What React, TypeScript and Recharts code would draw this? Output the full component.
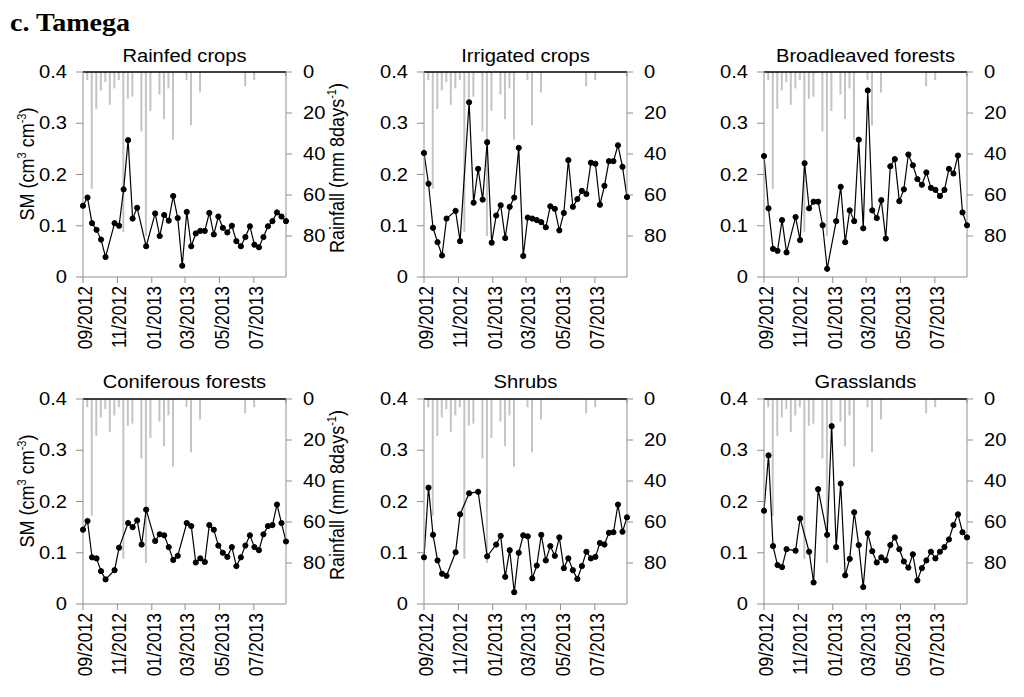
import React from 'react';
import { ComposedChart, Line, Bar, XAxis, YAxis, ReferenceLine } from 'recharts';

const FONT = '"Liberation Sans", Arial, sans-serif';
const AXIS_GREY = '#8f8f8f';
const TICK_FONT = 17.5;
const STRETCH = 1.15; // the figure's lettering is a little wide

// days since 1 Sep 2012, one 8-day composite per entry
const days = [0, 8, 16, 24, 32, 40, 48, 56, 64, 72, 80, 88, 96, 104, 112, 120, 128, 136, 144, 152, 160, 168, 176,
  184, 192, 200, 208, 216, 224, 232, 240, 248, 256, 264, 272, 280, 288, 296, 304, 312, 320, 328, 336, 344, 352, 360];

const monthTicks = [0, 61, 122, 181, 242, 303];
const monthLabels = ['09/2012', '11/2012', '01/2013', '03/2013', '05/2013', '07/2013'];
const smTicks = [0, 0.1, 0.2, 0.3, 0.4];
const rainTicks = [0, 20, 40, 60, 80];

// basin rainfall (mm / 8 days), same in every panel
const rainfall = [0, 4, 57, 18, 9, 5, 16, 8, 4, 78, 13, 12, 0, 29, 80, 19, 0, 11, 23, 8, 33, 0, 0,
  4, 26, 0, 10, 0, 0, 0, 0, 0, 0, 0, 0, 0, 7, 0, 4, 0, 0, 0, 0, 0, 0, 2];

const rainfedCrops = [0.139, 0.155, 0.105, 0.092, 0.073, 0.039, null, 0.105, 0.1, 0.171, 0.267, 0.114, 0.135, null,
  0.06, null, 0.124, 0.08, 0.121, 0.11, 0.158, 0.115, 0.022, 0.127, 0.06, 0.085, 0.09, 0.09, 0.125, 0.083, 0.118,
  0.096, 0.087, 0.1, 0.07, 0.06, 0.078, 0.099, 0.063, 0.058, 0.078, 0.099, 0.109, 0.126, 0.118, 0.109];
const irrigatedCrops = [0.242, 0.182, 0.096, 0.068, 0.042, 0.114, null, 0.129, 0.07, null, 0.341, 0.145, 0.211,
  0.151, 0.263, 0.067, 0.12, 0.14, 0.076, 0.137, 0.155, 0.252, 0.041, 0.116, 0.114, 0.111, 0.107, 0.097, 0.138,
  0.133, 0.091, 0.125, 0.228, 0.137, 0.152, 0.168, 0.162, 0.223, 0.221, 0.141, 0.178, 0.226, 0.226, 0.257, 0.215, 0.156];
const broadleavedForests = [0.236, 0.134, 0.055, 0.051, 0.111, 0.048, null, 0.117, 0.072, 0.222, 0.134, 0.147, 0.147,
  0.101, 0.016, null, 0.109, 0.176, 0.068, 0.13, 0.109, 0.268, 0.095, 0.364, 0.13, 0.115, 0.15, 0.075, 0.216, 0.23,
  0.148, 0.171, 0.239, 0.218, 0.191, 0.18, 0.204, 0.174, 0.17, 0.158, 0.17, 0.211, 0.202, 0.237, 0.126, 0.101];
const coniferousForests = [0.145, 0.162, 0.091, 0.089, 0.064, 0.048, null, 0.066, 0.11, null, 0.158, 0.15, 0.163,
  0.116, 0.184, null, 0.123, 0.136, 0.134, 0.111, 0.086, 0.094, null, 0.158, 0.152, 0.081, 0.089, 0.082, 0.154,
  0.145, 0.114, 0.1, 0.092, 0.111, 0.074, 0.091, 0.114, 0.134, 0.111, 0.105, 0.136, 0.152, 0.154, 0.194, 0.158, 0.122];
const shrubs = [0.091, 0.227, 0.135, 0.085, 0.059, 0.055, null, 0.101, 0.175, null, 0.216, null, 0.219, null, 0.093,
  null, 0.116, 0.133, 0.053, 0.105, 0.023, 0.1, 0.134, 0.132, 0.05, 0.075, 0.135, 0.085, 0.113, 0.094, 0.13, 0.07,
  0.089, 0.066, 0.049, 0.074, 0.102, 0.089, 0.092, 0.119, 0.116, 0.139, 0.14, 0.194, 0.141, 0.169];
const grasslands = [0.182, 0.29, 0.113, 0.076, 0.072, 0.107, null, 0.104, 0.167, null, 0.102, 0.042, 0.224, null,
  0.135, 0.347, 0.111, 0.235, 0.056, 0.088, 0.179, 0.115, 0.033, 0.138, 0.103, 0.081, 0.091, 0.085, 0.115, 0.13,
  0.107, 0.083, 0.071, 0.097, 0.046, 0.07, 0.085, 0.102, 0.089, 0.102, 0.111, 0.126, 0.154, 0.175, 0.14, 0.13];

const panels = [
  { title: 'Rainfed crops', sm: rainfedCrops, row: 0, col: 0 },
  { title: 'Irrigated crops', sm: irrigatedCrops, row: 0, col: 1 },
  { title: 'Broadleaved forests', sm: broadleavedForests, row: 0, col: 2 },
  { title: 'Coniferous forests', sm: coniferousForests, row: 1, col: 0 },
  { title: 'Shrubs', sm: shrubs, row: 1, col: 1 },
  { title: 'Grasslands', sm: grasslands, row: 1, col: 2 },
];

const COL_LEFT = [0, 341, 681];
const ROW_TOP = [0, 330];
const ROW_MARGIN_TOP = [72, 69];
const TITLE_CENTER = [56, 381.5];
const PLOT_LEFT = 83;
const PLOT_W = 203;
const PLOT_H = 205;
const XAXIS_H = 80;
const CHART_W = 360;

const MonthTick = (props: any) => {
  const { x, y, payload } = props;
  const label = monthLabels[monthTicks.indexOf(payload.value)];
  return (
    <text x={0} y={0} transform={`translate(${x} ${y}) rotate(-90) scale(1 ${STRETCH})`} textAnchor="end"
      dy="0.45em" fontSize={TICK_FONT} fontFamily={FONT} fill="#000">
      {label}
    </text>
  );
};

const ValueTick = (props: any) => {
  const { x, y, payload, anchor, fmt } = props;
  return (
    <text x={0} y={0} transform={`translate(${x} ${y}) scale(${STRETCH} 1)`} textAnchor={anchor} dy="0.355em"
      fontSize={TICK_FONT} fontFamily={FONT} fill="#000">
      {fmt(payload.value)}
    </text>
  );
};

const fmtSm = (v: number) => (v === 0 ? '0' : v.toFixed(1));
const fmtRain = (v: number) => String(v);

const Panel = ({ title, sm, row, col }: { title: string; sm: (number | null)[]; row: number; col: number }) => {
  const data = days.map((d, i) => ({ day: d, sm: sm[i], rain: rainfall[i] }));
  const top = ROW_TOP[row];
  const mTop = ROW_MARGIN_TOP[row];
  const left = COL_LEFT[col];
  const height = mTop + PLOT_H + XAXIS_H;
  return (
    <>
      <div style={{
        position: 'absolute', left: left + PLOT_LEFT, top: TITLE_CENTER[row] - 11, width: PLOT_W,
        textAlign: 'center', fontFamily: FONT, fontSize: 17.5, lineHeight: '22px', color: '#000',
        transform: `scaleX(${STRETCH})`, whiteSpace: 'nowrap',
      }}>{title}</div>
      <div style={{ position: 'absolute', left, top }}>
        <ComposedChart width={CHART_W} height={height} data={data}
          margin={{ top: mTop, right: CHART_W - PLOT_LEFT - PLOT_W - 45, bottom: 0, left: PLOT_LEFT - 50 }}>
          <XAxis dataKey="day" type="number" domain={[0, 360]} ticks={monthTicks} interval={0}
            height={XAXIS_H} tickSize={6} tickMargin={3} tick={(p: any) => <MonthTick {...p} />}
            axisLine={{ stroke: AXIS_GREY }} tickLine={{ stroke: AXIS_GREY }} />
          <YAxis yAxisId="sm" domain={[0, 0.4]} ticks={smTicks} width={50} tickSize={7} tickMargin={9}
            tick={(p: any) => <ValueTick {...p} anchor="end" fmt={fmtSm} />}
            axisLine={{ stroke: AXIS_GREY }} tickLine={{ stroke: AXIS_GREY }} />
          <YAxis yAxisId="rain" orientation="right" reversed domain={[0, 100]} ticks={rainTicks} width={45}
            tickSize={6} tickMargin={11} tick={(p: any) => <ValueTick {...p} anchor="start" fmt={fmtRain} />}
            axisLine={{ stroke: AXIS_GREY }} tickLine={{ stroke: AXIS_GREY }} />
          <Bar yAxisId="rain" dataKey="rain" fill="#c4c4c4" barSize={2} isAnimationActive={false} />
          <ReferenceLine yAxisId="sm" y={0.4} stroke="#000" strokeWidth={1.5} />
          <Line yAxisId="sm" dataKey="sm" stroke="#000" strokeWidth={1.2} connectNulls
            dot={{ r: 2.6, fill: '#000', stroke: '#000', strokeWidth: 1 }} isAnimationActive={false} />
        </ComposedChart>
      </div>
    </>
  );
};

const rotated = (cx: number, cy: number): React.CSSProperties => ({
  position: 'absolute', left: cx, top: cy,
  transform: `translate(-50%, -50%) rotate(-90deg) scaleY(${STRETCH})`,
  whiteSpace: 'nowrap', fontFamily: FONT, fontSize: 18, lineHeight: '18px', color: '#000',
});
const supStyle: React.CSSProperties = { fontSize: 11, verticalAlign: 'super', lineHeight: 0 };

export default function App() {
  return (
    <div style={{ position: 'absolute', left: 0, top: 0, width: 1024, height: 697, background: '#fff' }}>
      <div style={{
        position: 'absolute', left: 10, top: 10, fontFamily: '"Liberation Serif", serif', fontWeight: 'bold',
        fontSize: 26, lineHeight: '26px', color: '#000', transform: 'scaleX(1.08)', transformOrigin: 'left center',
      }}>c. Tamega</div>
      {panels.map((p) => <Panel key={p.title} {...p} />)}
      {[0, 1].map((row) => (
        <React.Fragment key={row}>
          <div style={rotated(27, ROW_TOP[row] + ROW_MARGIN_TOP[row] + 92)}>
            SM (cm<span style={supStyle}>3</span> cm<span style={supStyle}>-3</span>)
          </div>
          <div style={rotated(337, ROW_TOP[row] + ROW_MARGIN_TOP[row] + 96)}>
            Rainfall (mm 8days<span style={supStyle}>-1</span>)
          </div>
        </React.Fragment>
      ))}
    </div>
  );
}
